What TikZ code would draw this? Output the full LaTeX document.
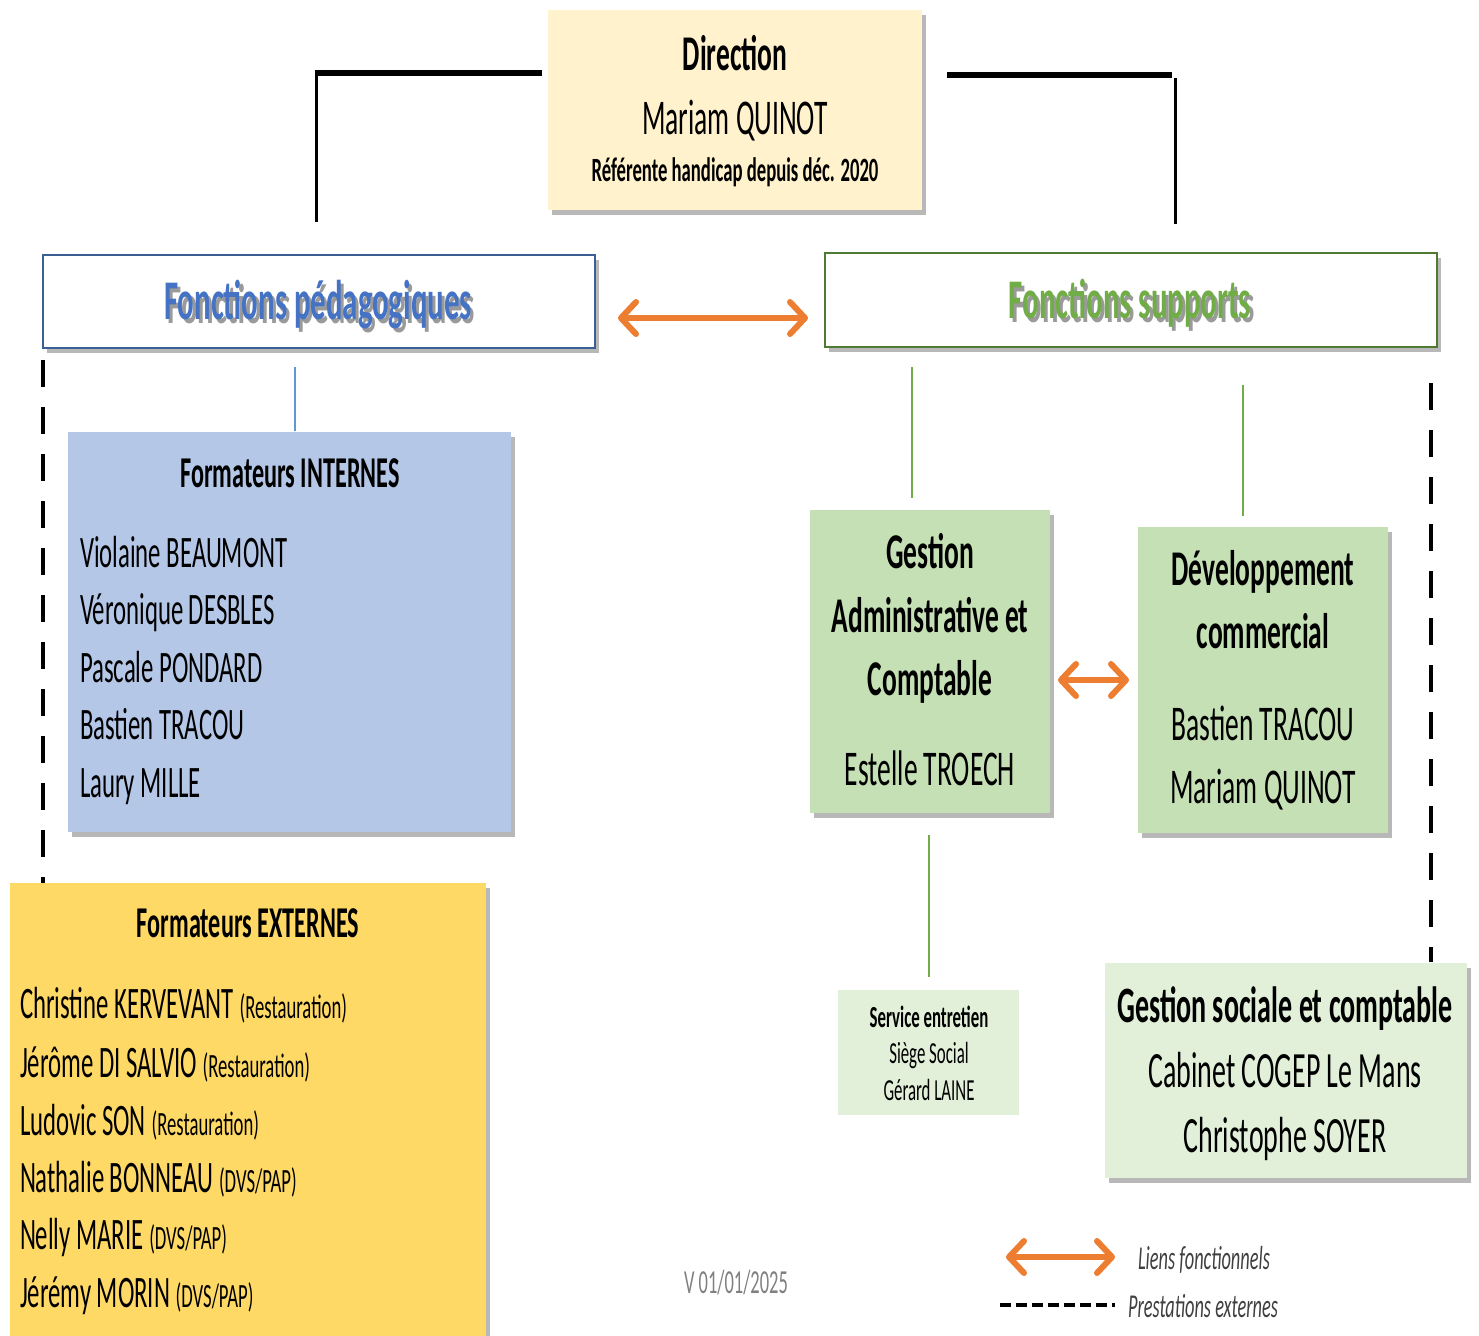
\documentclass[tikz,border=0pt]{standalone}
\usepackage{fontspec}
\setmainfont{Carlito}[FakeStretch=0.55]
\usetikzlibrary{arrows.meta,shadows,fit}
\definecolor{dirfill}{HTML}{FFF2CC}
\definecolor{pedablue}{HTML}{4472C4}
\definecolor{pedaborder}{HTML}{3A5F95}
\definecolor{supgreen}{HTML}{70AD47}
\definecolor{supborder}{HTML}{4E7A31}
\definecolor{intfill}{HTML}{B4C7E7}
\definecolor{extfill}{HTML}{FFD966}
\definecolor{gesfill}{HTML}{C5E0B4}
\definecolor{lightgreen}{HTML}{E2F0D9}
\definecolor{orangeln}{HTML}{ED7D31}
\definecolor{linkblue}{HTML}{5B9BD5}
\definecolor{legendgray}{HTML}{404040}
\definecolor{txtshadow}{HTML}{9A9A9A}
\tikzset{
  boxfit/.style={inner sep=0pt, outer sep=0pt},
  shbox/.style={boxfit, drop shadow={shadow xshift=2.2pt, shadow yshift=-2.6pt, fill=black!55, opacity=0.5}},
  tx/.style={anchor=base, inner sep=0pt, outer sep=0pt},
  txl/.style={anchor=base west, inner sep=0pt, outer sep=0pt},
  barb/.tip={Straight Barb[length=7.5pt, width=16pt, round]},
  flink/.style={draw=orangeln, line width=3pt, barb-barb},
  glink/.style={draw=supgreen, line width=1pt},
  extdash/.style={draw=black, line width=1.6pt, dash pattern=on 13.5pt off 10pt},
  fA/.style={font=\fontsize{25}{30}\selectfont},
  fAb/.style={font=\bfseries\fontsize{25}{30}\selectfont},
  fN/.style={font=\fontsize{22.5}{27}\selectfont},
  fNb/.style={font=\bfseries\fontsize{22}{27}\selectfont},
  fS/.style={font=\fontsize{15.3}{18}\selectfont},
  fSb/.style={font=\bfseries\fontsize{15.3}{18}\selectfont},
  fT/.style={font=\bfseries\fontsize{28}{32}\selectfont},
}
\newcommand{\parenfont}{\fontsize{17}{20}\selectfont}
% text with a soft drop shadow, in one box
\newcommand{\shadowtext}[2]{\rlap{\hspace{1.6pt}\raisebox{-2pt}{\textcolor{txtshadow}{#2}}}\textcolor{#1}{#2}}
\begin{document}
\begin{tikzpicture}[x=0.5pt, y=-0.5pt]
\useasboundingbox[fill=white] (0,0) rectangle (1479,1335);

% ---------- boxes ----------
\node[shbox, fill=dirfill, fit={(548,10) (922,210)}] (dir) {};
\node[shbox, fill=white, draw=pedaborder, line width=1pt, fit={(43,255) (595,348)}] (peda) {};
\node[shbox, fill=white, draw=supborder, line width=1pt, fit={(825,253) (1437,347)}] (supp) {};
\node[shbox, fill=intfill, fit={(68,432) (511,832)}] (intern) {};
\node[shbox, fill=extfill, fit={(10,883) (486,1340)}] (extern) {};
\node[shbox, fill=gesfill, fit={(810,510) (1050,813)}] (gestadm) {};
\node[shbox, fill=gesfill, fit={(1138,527) (1388,833)}] (devcom) {};
\node[boxfit, fill=lightgreen, fit={(838,990) (1019,1115)}] (entretien) {};
\node[shbox, fill=lightgreen, fit={(1105,963) (1467,1178)}] (sociale) {};

% ---------- Direction ----------
\node[tx, fAb] (dirT) at (735,70) {Direction};
\node[tx, fA] (dirN) at (735,134) {Mariam QUINOT};
\node[tx, font=\bfseries\fontsize{17}{20}\selectfont] (dirR) at (735,181) {Référente handicap depuis déc. 2020};

% ---------- titles with shadow ----------
\node[tx, fT] (pedaT) at (318,319) {\shadowtext{pedablue}{Fonctions pédagogiques}};
\node[tx, fT] (suppT) at (1130,318) {\shadowtext{supgreen}{Fonctions supports}};

% ---------- Formateurs internes ----------
\node[tx, fNb] (intT) at (290,487) {Formateurs INTERNES};
\node[txl, fN] (i1) at (80,567) {Violaine BEAUMONT};
\node[txl, fN] (i2) at (80,624) {Véronique DESBLES};
\node[txl, fN] (i3) at (80,682) {Pascale PONDARD};
\node[txl, fN] (i4) at (80,739) {Bastien TRACOU};
\node[txl, fN] (i5) at (80,797) {Laury MILLE};

% ---------- Formateurs externes ----------
\node[tx, fNb] (extT) at (248,937) {Formateurs EXTERNES};
\node[txl, fN] (e1) at (20,1018) {Christine KERVEVANT {\parenfont(Restauration)}};
\node[txl, fN] (e2) at (20,1077) {Jérôme DI SALVIO {\parenfont(Restauration)}};
\node[txl, fN] (e3) at (20,1135) {Ludovic SON {\parenfont(Restauration)}};
\node[txl, fN] (e4) at (20,1192) {Nathalie BONNEAU {\parenfont(DVS/PAP)}};
\node[txl, fN] (e5) at (20,1249) {Nelly MARIE {\parenfont(DVS/PAP)}};
\node[txl, fN] (e6) at (20,1307) {Jérémy MORIN {\parenfont(DVS/PAP)}};

% ---------- Gestion administrative ----------
\node[tx, fAb] (g1) at (930,568) {Gestion};
\node[tx, fAb] (g2) at (930,632) {Administrative et};
\node[tx, fAb] (g3) at (930,695) {Comptable};
\node[tx, fA] (g4) at (930,785) {Estelle TROECH};

% ---------- Developpement commercial ----------
\node[tx, fAb] (d1) at (1263,585) {Développement};
\node[tx, fAb] (d2) at (1263,648) {commercial};
\node[tx, fA] (d3) at (1263,740) {Bastien TRACOU};
\node[tx, fA] (d4) at (1263,803) {Mariam QUINOT};

% ---------- Service entretien ----------
\node[tx, fSb] (s1) at (929,1027) {Service entretien};
\node[tx, fS] (s2) at (929,1063) {Siège Social};
\node[tx, fS] (s3) at (929,1100) {Gérard LAINE};

% ---------- Gestion sociale ----------
\node[tx, font=\bfseries\fontsize{25.5}{30}\selectfont] (c1) at (1285,1022) {Gestion sociale et comptable};
\node[tx, font=\fontsize{25.4}{30}\selectfont] (c2) at (1285,1087) {Cabinet COGEP Le Mans};
\node[tx, font=\fontsize{25.4}{30}\selectfont] (c3) at (1285,1152) {Christophe SOYER};

% ---------- version ----------
\node[tx, font=\fontsize{16.8}{20}\selectfont, text=black!50] (ver) at (736,1293) {V 01/01/2025};

% ---------- hierarchical connectors ----------
\coordinate (lh1) at (542,73);
\coordinate (lh2) at (316,73);
\coordinate (lv2) at (316,222);
\coordinate (rh1) at (947,75);
\coordinate (rh2) at (1172,75);
\coordinate (rv1) at (1175,78);
\coordinate (rv2) at (1175,224);
\draw[line width=3pt] (lh1) -- (314.5,73);
\draw[line width=1.5pt] (lh2) -- (lv2);
\draw[line width=3pt] (rh1) -- (rh2);
\draw[line width=1.5pt] (rv1) -- (rv2);

\coordinate (pb1) at (295,367);
\coordinate (pb2) at (295,431);
\draw[draw=linkblue, line width=1pt] (pb1) -- (pb2);

\coordinate (ga1) at (912,367);
\coordinate (ga2) at (912,498);
\draw[glink] (ga1) -- (ga2);
\coordinate (gd1) at (1243,385);
\coordinate (gd2) at (1243,516);
\draw[glink] (gd1) -- (gd2);
\coordinate (ge1) at (929,835);
\coordinate (ge2) at (929,977);
\draw[glink] (ge1) -- (ge2);

% ---------- external dashed lines ----------
\coordinate (xl1) at (43,360);
\coordinate (xl2) at (43,883);
\draw[extdash] (xl1) -- (xl2);
\coordinate (xr1) at (1431,383);
\coordinate (xr2) at (1431,962);
\draw[extdash] (xr1) -- (xr2);

% ---------- functional links ----------
\coordinate (fa1) at (618,318);
\coordinate (fa2) at (808,318);
\draw[flink] (fa1) -- (fa2);
\coordinate (fb1) at (1058,680);
\coordinate (fb2) at (1129,680);
\draw[flink] (fb1) -- (fb2);

% ---------- legend ----------
\coordinate (la1) at (1006,1257);
\coordinate (la2) at (1115,1257);
\draw[flink] (la1) -- (la2);
\node[txl, font=\itshape\fontsize{16.7}{20}\selectfont, text=legendgray] (lt1) at (1138,1269) {Liens fonctionnels};
\coordinate (ld1) at (1000,1305);
\coordinate (ld2) at (1115,1305);
\draw[draw=black, line width=2pt, dash pattern=on 5.5pt off 2.5pt] (ld1) -- (ld2);
\node[txl, font=\itshape\fontsize{16.7}{20}\selectfont, text=legendgray] (lt2) at (1128,1317) {Prestations externes};
\end{tikzpicture}
\end{document}
